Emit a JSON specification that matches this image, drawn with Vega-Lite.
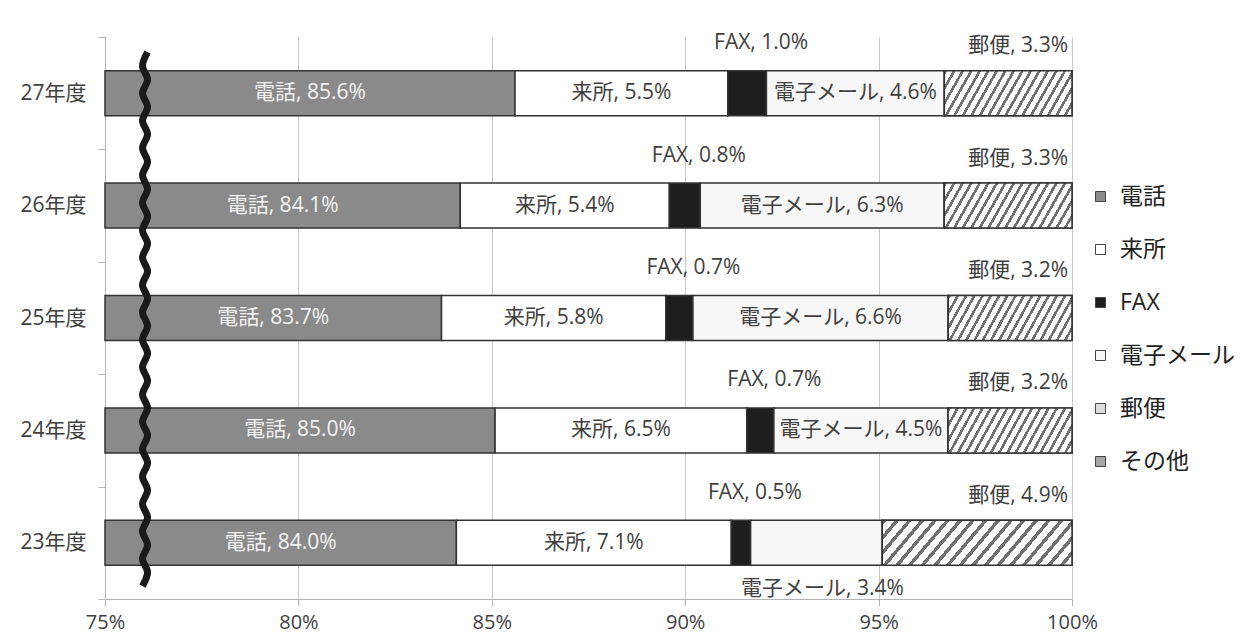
{
  "$schema": "https://vega.github.io/schema/vega-lite/v6.json",
  "width": 967,
  "height": 562,
  "autosize": {"type": "none"},
  "padding": {"left": 105, "top": 37, "right": 168, "bottom": 40},
  "background": "white",
  "config": {
    "view": {"stroke": null},
    "font": "Open Sans, Noto Sans CJK JP",
    "text": {"font": "Open Sans, Noto Sans CJK JP"},
    "axis": {"labelFont": "Open Sans, Noto Sans CJK JP", "labelColor": "#404040", "labelFontSize": 21, "domainColor": "#b4b4b4", "tickColor": "#b4b4b4", "gridColor": "#c8c8c8", "tickSize": 7},
    "legend": {"labelFont": "Open Sans, Noto Sans CJK JP"}
  },
  "datasets": {
    "main": [
      {"year": "27年度", "type": "電話", "value": 85.6},
      {"year": "27年度", "type": "来所", "value": 5.5},
      {"year": "27年度", "type": "FAX", "value": 1.0},
      {"year": "27年度", "type": "電子メール", "value": 4.6},
      {"year": "27年度", "type": "郵便", "value": 3.3},
      {"year": "26年度", "type": "電話", "value": 84.1},
      {"year": "26年度", "type": "来所", "value": 5.4},
      {"year": "26年度", "type": "FAX", "value": 0.8},
      {"year": "26年度", "type": "電子メール", "value": 6.3},
      {"year": "26年度", "type": "郵便", "value": 3.3},
      {"year": "25年度", "type": "電話", "value": 83.7},
      {"year": "25年度", "type": "来所", "value": 5.8},
      {"year": "25年度", "type": "FAX", "value": 0.7},
      {"year": "25年度", "type": "電子メール", "value": 6.6},
      {"year": "25年度", "type": "郵便", "value": 3.2},
      {"year": "24年度", "type": "電話", "value": 85.0},
      {"year": "24年度", "type": "来所", "value": 6.5},
      {"year": "24年度", "type": "FAX", "value": 0.7},
      {"year": "24年度", "type": "電子メール", "value": 4.5},
      {"year": "24年度", "type": "郵便", "value": 3.2},
      {"year": "23年度", "type": "電話", "value": 84.0},
      {"year": "23年度", "type": "来所", "value": 7.1},
      {"year": "23年度", "type": "FAX", "value": 0.5},
      {"year": "23年度", "type": "電子メール", "value": 3.4},
      {"year": "23年度", "type": "郵便", "value": 4.9}
    ],
    "wave": [
      {"x": 0.7597, "y": 0.0230}, {"x": 0.7610, "y": 0.0474}, {"x": 0.7597, "y": 0.0717}, {"x": 0.7610, "y": 0.0961},
      {"x": 0.7597, "y": 0.1204}, {"x": 0.7610, "y": 0.1448}, {"x": 0.7597, "y": 0.1692}, {"x": 0.7610, "y": 0.1935},
      {"x": 0.7597, "y": 0.2179}, {"x": 0.7610, "y": 0.2422}, {"x": 0.7597, "y": 0.2666}, {"x": 0.7610, "y": 0.2909},
      {"x": 0.7597, "y": 0.3153}, {"x": 0.7610, "y": 0.3397}, {"x": 0.7597, "y": 0.3640}, {"x": 0.7610, "y": 0.3884},
      {"x": 0.7597, "y": 0.4127}, {"x": 0.7610, "y": 0.4371}, {"x": 0.7597, "y": 0.4615}, {"x": 0.7610, "y": 0.4858},
      {"x": 0.7597, "y": 0.5102}, {"x": 0.7610, "y": 0.5345}, {"x": 0.7597, "y": 0.5589}, {"x": 0.7610, "y": 0.5833},
      {"x": 0.7597, "y": 0.6076}, {"x": 0.7610, "y": 0.6320}, {"x": 0.7597, "y": 0.6563}, {"x": 0.7610, "y": 0.6807},
      {"x": 0.7597, "y": 0.7051}, {"x": 0.7610, "y": 0.7294}, {"x": 0.7597, "y": 0.7538}, {"x": 0.7610, "y": 0.7781},
      {"x": 0.7597, "y": 0.8025}, {"x": 0.7610, "y": 0.8268}, {"x": 0.7597, "y": 0.8512}, {"x": 0.7610, "y": 0.8756},
      {"x": 0.7597, "y": 0.8999}, {"x": 0.7610, "y": 0.9243}, {"x": 0.7597, "y": 0.9486}, {"x": 0.7610, "y": 0.9730}
    ]
  },
  "resolve": {"scale": {"y": "independent"}},
  "layer": [
    {
      "data": {"name": "main"},
      "transform": [
        {"calculate": "indexof(['電話','来所','FAX','電子メール','郵便','その他'], datum.type)", "as": "k"},
        {"stack": "value", "groupby": ["year"], "sort": [{"field": "k", "order": "ascending"}], "offset": "normalize", "as": ["x0", "x1"]},
        {"calculate": "(max(datum.x0, 0.75) + datum.x1) / 2", "as": "xm"},
        {"calculate": "datum.type + ', ' + format(datum.value, '.1f') + '%'", "as": "label"}
      ],
      "encoding": {
        "y": {
          "field": "year", "type": "nominal", "title": null,
          "sort": ["27年度", "26年度", "25年度", "24年度", "23年度"],
          "scale": {"paddingInner": 0, "paddingOuter": 0},
          "axis": {"tickBand": "extent", "labelPadding": 12, "labelFontSize": 21, "ticks": true, "domain": true}
        }
      },
      "layer": [
        {
          "mark": {"type": "bar", "stroke": "#333333", "strokeWidth": 1.5, "height": {"band": 0.4}},
          "encoding": {
            "x": {
              "field": "x0", "type": "quantitative", "title": null,
              "scale": {"domain": [0.75, 1], "clamp": true, "nice": false, "zero": false},
              "axis": {"values": [0.75, 0.8, 0.85, 0.9, 0.95, 1], "format": ".0%", "grid": true, "labelPadding": 6, "labelFontSize": 20, "labelFlush": false}
            },
            "x2": {"field": "x1"},
            "fill": {
              "field": "type", "type": "nominal",
              "scale": {
                "domain": ["電話", "来所", "FAX", "電子メール", "郵便", "その他"],
                "range": ["#8a8a8a", "#ffffff", "#1e1e1e", "#f7f7f7", "#dcdcdc", "#a6a6a6"]
              },
              "legend": {
                "title": null, "orient": "none", "legendX": 984, "legendY": 148,
                "symbolType": "square", "symbolSize": 100, "symbolStrokeColor": "#444444", "symbolStrokeWidth": 1,
                "labelFontSize": 23, "labelColor": "#222222", "rowPadding": 29, "labelOffset": 8
              }
            }
          }
        },
        {
          "transform": [{"filter": "datum.type === '郵便'"}],
          "mark": {
            "type": "bar", "stroke": "#333333", "strokeWidth": 1.5, "height": {"band": 0.4},
            "fill": {"gradient": "linear", "x1": 0, "y1": 0, "x2": 1.154, "y2": 0.231, "stops": [
              {"offset": 0, "color": "#707070"}, {"offset": 0.0194, "color": "#707070"}, {"offset": 0.0194, "color": "#ffffff"}, {"offset": 0.0556, "color": "#ffffff"},
              {"offset": 0.0556, "color": "#707070"}, {"offset": 0.075, "color": "#707070"}, {"offset": 0.075, "color": "#ffffff"}, {"offset": 0.1111, "color": "#ffffff"},
              {"offset": 0.1111, "color": "#707070"}, {"offset": 0.1305, "color": "#707070"}, {"offset": 0.1305, "color": "#ffffff"}, {"offset": 0.1667, "color": "#ffffff"},
              {"offset": 0.1667, "color": "#707070"}, {"offset": 0.1861, "color": "#707070"}, {"offset": 0.1861, "color": "#ffffff"}, {"offset": 0.2222, "color": "#ffffff"},
              {"offset": 0.2222, "color": "#707070"}, {"offset": 0.2416, "color": "#707070"}, {"offset": 0.2416, "color": "#ffffff"}, {"offset": 0.2778, "color": "#ffffff"},
              {"offset": 0.2778, "color": "#707070"}, {"offset": 0.2972, "color": "#707070"}, {"offset": 0.2972, "color": "#ffffff"}, {"offset": 0.3333, "color": "#ffffff"},
              {"offset": 0.3333, "color": "#707070"}, {"offset": 0.3527, "color": "#707070"}, {"offset": 0.3527, "color": "#ffffff"}, {"offset": 0.3889, "color": "#ffffff"},
              {"offset": 0.3889, "color": "#707070"}, {"offset": 0.4083, "color": "#707070"}, {"offset": 0.4083, "color": "#ffffff"}, {"offset": 0.4444, "color": "#ffffff"},
              {"offset": 0.4444, "color": "#707070"}, {"offset": 0.4638, "color": "#707070"}, {"offset": 0.4638, "color": "#ffffff"}, {"offset": 0.5, "color": "#ffffff"},
              {"offset": 0.5, "color": "#707070"}, {"offset": 0.5194, "color": "#707070"}, {"offset": 0.5194, "color": "#ffffff"}, {"offset": 0.5556, "color": "#ffffff"},
              {"offset": 0.5556, "color": "#707070"}, {"offset": 0.575, "color": "#707070"}, {"offset": 0.575, "color": "#ffffff"}, {"offset": 0.6111, "color": "#ffffff"},
              {"offset": 0.6111, "color": "#707070"}, {"offset": 0.6305, "color": "#707070"}, {"offset": 0.6305, "color": "#ffffff"}, {"offset": 0.6667, "color": "#ffffff"},
              {"offset": 0.6667, "color": "#707070"}, {"offset": 0.6861, "color": "#707070"}, {"offset": 0.6861, "color": "#ffffff"}, {"offset": 0.7222, "color": "#ffffff"},
              {"offset": 0.7222, "color": "#707070"}, {"offset": 0.7416, "color": "#707070"}, {"offset": 0.7416, "color": "#ffffff"}, {"offset": 0.7778, "color": "#ffffff"},
              {"offset": 0.7778, "color": "#707070"}, {"offset": 0.7972, "color": "#707070"}, {"offset": 0.7972, "color": "#ffffff"}, {"offset": 0.8333, "color": "#ffffff"},
              {"offset": 0.8333, "color": "#707070"}, {"offset": 0.8527, "color": "#707070"}, {"offset": 0.8527, "color": "#ffffff"}, {"offset": 0.8889, "color": "#ffffff"},
              {"offset": 0.8889, "color": "#707070"}, {"offset": 0.9083, "color": "#707070"}, {"offset": 0.9083, "color": "#ffffff"}, {"offset": 0.9444, "color": "#ffffff"},
              {"offset": 0.9444, "color": "#707070"}, {"offset": 0.9638, "color": "#707070"}, {"offset": 0.9638, "color": "#ffffff"}, {"offset": 1, "color": "#ffffff"}
            ]}
          },
          "encoding": {
            "x": {"field": "x0", "type": "quantitative", "title": null},
            "x2": {"field": "x1"}
          }
        },
        {
          "transform": [{"filter": "datum.type === '電話'"}],
          "mark": {"type": "text", "fontSize": 21, "color": "#f2f2f2", "align": "center", "baseline": "middle"},
          "encoding": {"x": {"field": "xm", "type": "quantitative", "title": null}, "text": {"field": "label"}}
        },
        {
          "transform": [{"filter": "datum.type === '来所' || (datum.type === '電子メール' && datum.year !== '23年度')"}],
          "mark": {"type": "text", "fontSize": 21, "color": "#404040", "align": "center", "baseline": "middle"},
          "encoding": {"x": {"field": "xm", "type": "quantitative", "title": null}, "text": {"field": "label"}}
        },
        {
          "transform": [{"filter": "datum.type === 'FAX'"}],
          "mark": {"type": "text", "fontSize": 21, "color": "#404040", "align": "center", "baseline": "middle", "dx": 14, "dy": -50},
          "encoding": {"x": {"field": "xm", "type": "quantitative", "title": null}, "text": {"field": "label"}}
        },
        {
          "transform": [{"filter": "datum.type === '郵便'"}],
          "mark": {"type": "text", "fontSize": 21, "color": "#404040", "align": "right", "baseline": "middle", "dx": -4, "dy": -47},
          "encoding": {"x": {"field": "x1", "type": "quantitative", "title": null}, "text": {"field": "label"}}
        },
        {
          "transform": [{"filter": "datum.type === '電子メール' && datum.year === '23年度'"}],
          "mark": {"type": "text", "fontSize": 21, "color": "#404040", "align": "center", "baseline": "middle", "dx": 6, "dy": 46},
          "encoding": {"x": {"field": "xm", "type": "quantitative", "title": null}, "text": {"field": "label"}}
        }
      ]
    },
    {
      "data": {"name": "wave"},
      "mark": {"type": "line", "color": "#1a1a1a", "strokeWidth": 7, "interpolate": "cardinal", "strokeCap": "butt"},
      "encoding": {
        "x": {"field": "x", "type": "quantitative", "title": null},
        "y": {"field": "y", "type": "quantitative", "scale": {"domain": [0, 1], "nice": false, "zero": false}, "axis": null},
        "order": {"field": "y", "type": "quantitative"}
      }
    }
  ]
}
